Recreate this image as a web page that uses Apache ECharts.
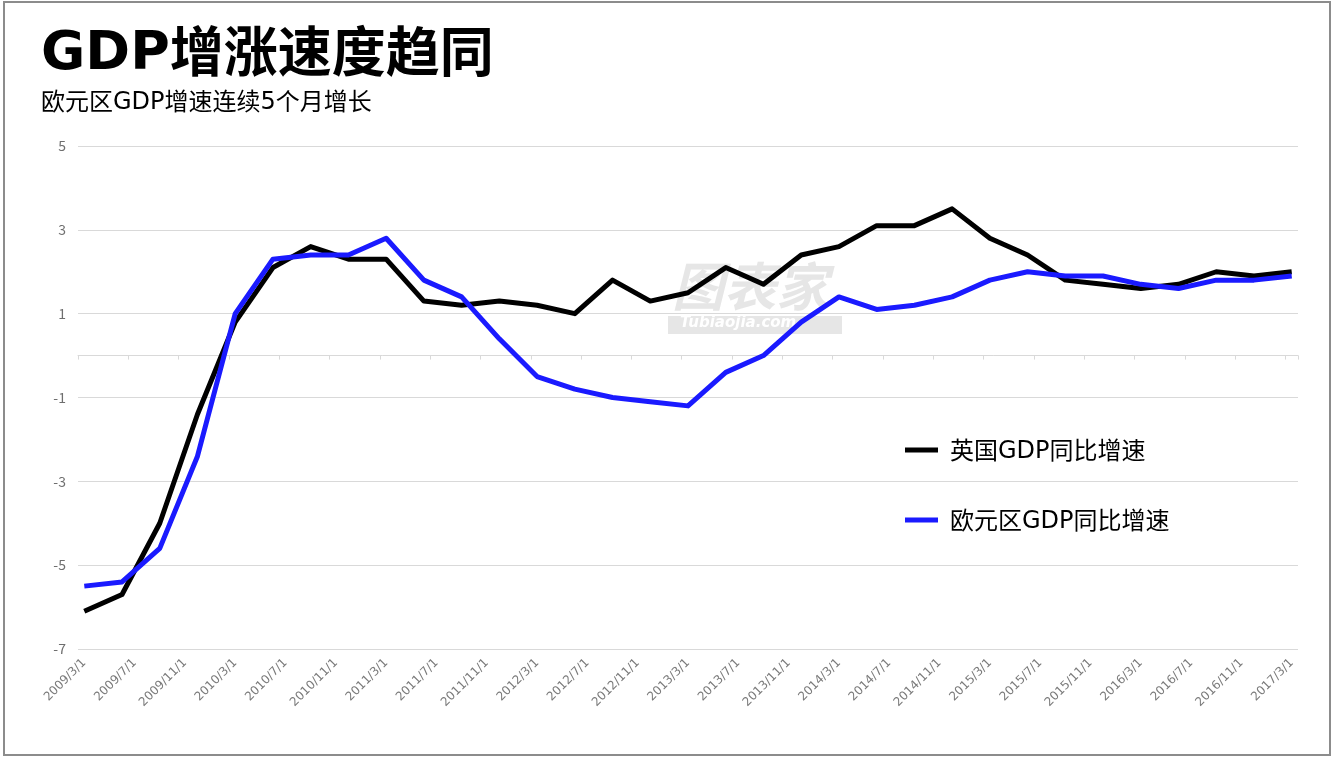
<!DOCTYPE html>
<html>
<head>
<meta charset="utf-8">
<script src="https://cdn.jsdelivr.net/npm/echarts@6/dist/echarts.min.js"></script>
<style>
html,body{margin:0;padding:0;background:#fff;}
#chart{width:1333px;height:760px;}
</style>
</head>
<body>
<div id="chart"></div>
<script>
const titleText = '{g|GDP}增涨速度趋同';
const subtitleText = '欧元区{g|GDP}增速连续{g|5}个月增长';
const seriesNames = ['英国GDP同比增速', '欧元区GDP同比增速'];

// Quarterly observation dates
const quarterDates = [
  '2009/3/1','2009/6/1','2009/9/1','2009/12/1',
  '2010/3/1','2010/6/1','2010/9/1','2010/12/1',
  '2011/3/1','2011/6/1','2011/9/1','2011/12/1',
  '2012/3/1','2012/6/1','2012/9/1','2012/12/1',
  '2013/3/1','2013/6/1','2013/9/1','2013/12/1',
  '2014/3/1','2014/6/1','2014/9/1','2014/12/1',
  '2015/3/1','2015/6/1','2015/9/1','2015/12/1',
  '2016/3/1','2016/6/1','2016/9/1','2016/12/1',
  '2017/3/1'
];

const ukGrowth = [
  -6.1, -5.7, -4.0, -1.4,
  0.8, 2.1, 2.6, 2.3,
  2.3, 1.3, 1.2, 1.3,
  1.2, 1.0, 1.8, 1.3,
  1.5, 2.1, 1.7, 2.4,
  2.6, 3.1, 3.1, 3.5,
  2.8, 2.4, 1.8, 1.7,
  1.6, 1.7, 2.0, 1.9,
  2.0
];

const euroGrowth = [
  -5.5, -5.4, -4.6, -2.4,
  1.0, 2.3, 2.4, 2.4,
  2.8, 1.8, 1.4, 0.4,
  -0.5, -0.8, -1.0, -1.1,
  -1.2, -0.4, 0.0, 0.8,
  1.4, 1.1, 1.2, 1.4,
  1.8, 2.0, 1.9, 1.9,
  1.7, 1.6, 1.8, 1.8,
  1.9
];

// Monthly category axis from 2009/3/1 to 2017/3/1
const monthCategories = [];
for (let y = 2009, m = 3; y < 2017 || (y === 2017 && m <= 3); ) {
  monthCategories.push(y + '/' + m + '/1');
  m++; if (m > 12) { m = 1; y++; }
}

const yTicks = { min: -7, max: 5, interval: 2 };

const FONT = '"Noto Sans CJK SC", "Noto Sans", sans-serif';
const LATIN = '"DejaVu Sans", sans-serif';

const chart = echarts.init(document.getElementById('chart'), null, {renderer: 'canvas'});

function pairs(vals) { return quarterDates.map((d, i) => [d, vals[i]]); }

chart.setOption({
  backgroundColor: '#ffffff',
  animation: false,
  textStyle: { fontFamily: FONT },
  title: {
    text: titleText,
    subtext: subtitleText,
    left: 41,
    top: 21,
    itemGap: 8,
    padding: 0,
    textStyle: {
      fontSize: 54, fontWeight: 'bold', color: '#000', fontFamily: FONT,
      rich: { g: { fontSize: 54, fontWeight: 'bold', color: '#000', fontFamily: LATIN, padding: [7, 0, 0, 0] } }
    },
    subtextStyle: {
      fontSize: 24, color: '#000', fontFamily: FONT,
      rich: { g: { fontSize: 24, color: '#000', fontFamily: LATIN, padding: [4, 0, 0, 0] } }
    }
  },
  legend: {
    data: seriesNames,
    orient: 'vertical',
    left: 905,
    top: 438,
    itemGap: 44,
    itemWidth: 33,
    itemHeight: 5,
    icon: 'rect',
    padding: 0,
    formatter: function (name) { return name.replace('GDP', '{g|GDP}'); },
    textStyle: {
      fontSize: 24, color: '#000', fontFamily: FONT, padding: [0, 0, 0, 7],
      rich: { g: { fontSize: 24, color: '#000', fontFamily: LATIN, padding: [4, 0, 0, 0] } }
    }
  },
  grid: { left: 78, right: 35, top: 146, bottom: 111, containLabel: false },
  xAxis: [
    {
      type: 'category',
      data: monthCategories,
      boundaryGap: true,
      position: 'bottom',
      axisLine: { show: false, onZero: false },
      axisTick: { show: false },
      axisLabel: { interval: 3, rotate: 45, fontSize: 12, color: '#7a7a7a', margin: 12, fontFamily: LATIN },
      splitLine: { show: false }
    },
    {
      type: 'category',
      data: monthCategories,
      boundaryGap: true,
      position: 'top',
      axisLine: { show: true, onZero: true, lineStyle: { color: '#d9d9d9', width: 1 } },
      axisTick: { show: true, interval: 3, inside: true, length: 4, lineStyle: { color: '#d9d9d9' } },
      axisLabel: { show: false },
      splitLine: { show: false }
    }
  ],
  yAxis: {
    type: 'value',
    min: yTicks.min,
    max: yTicks.max,
    interval: yTicks.interval,
    axisLine: { show: false },
    axisTick: { show: false },
    axisLabel: { fontSize: 14, color: '#6e6e6e', margin: 12, fontFamily: FONT },
    splitLine: { show: true, lineStyle: { color: '#d9d9d9', width: 1 } }
  },
  graphic: [
    {
      type: 'rect',
      z: -10,
      shape: { x: 4, y: 2, width: 1326, height: 753 },
      style: { fill: 'none', stroke: '#8c8c8c', lineWidth: 2 }
    },
    {
      type: 'text',
      z: -5,
      left: 672, top: 260,
      style: { text: '图表家', fontSize: 52, fontWeight: 'bold', fontStyle: 'italic', fill: '#e6e6e6', fontFamily: FONT }
    },
    {
      type: 'rect',
      z: -5,
      shape: { x: 668, y: 316, width: 174, height: 18 },
      style: { fill: '#e6e6e6' }
    },
    {
      type: 'text',
      z: -4,
      left: 680, top: 316,
      style: { text: 'Tubiaojia.com', fontSize: 15, fontWeight: 'bold', fontStyle: 'italic', fill: '#ffffff', fontFamily: LATIN }
    }
  ],
  series: [
    {
      name: seriesNames[0],
      type: 'line',
      xAxisIndex: 0,
      data: pairs(ukGrowth),
      showSymbol: false,
      symbol: 'none',
      lineStyle: { color: '#000000', width: 5, join: 'round' },
      itemStyle: { color: '#000000' },
      z: 3
    },
    {
      name: seriesNames[1],
      type: 'line',
      xAxisIndex: 0,
      data: pairs(euroGrowth),
      showSymbol: false,
      symbol: 'none',
      lineStyle: { color: '#1a1aff', width: 5, join: 'round' },
      itemStyle: { color: '#1a1aff' },
      z: 4
    }
  ]
});
</script>
</body>
</html>
